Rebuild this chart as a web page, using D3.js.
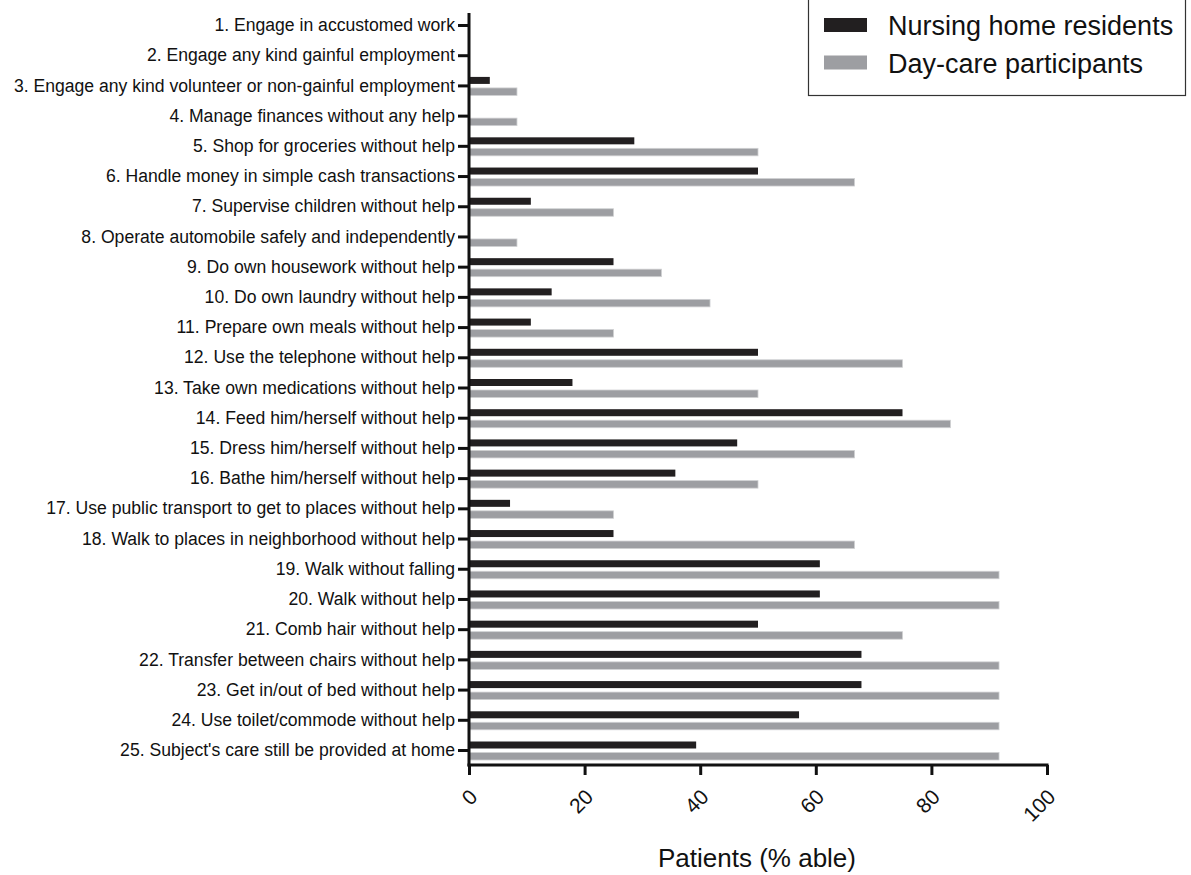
<!DOCTYPE html>
<html>
<head>
<meta charset="utf-8">
<script src="https://cdn.jsdelivr.net/npm/d3@7"></script>
<style>
  html, body { margin: 0; padding: 0; background: #fff; }
  svg { display: block; font-family: "Liberation Sans", Arial, Helvetica, sans-serif; }
</style>
</head>
<body>
<svg id="chart" width="1191" height="875"></svg>
<script>
const categories = [
  "1. Engage in accustomed work",
  "2. Engage any kind gainful employment",
  "3. Engage any kind volunteer or non-gainful employment",
  "4. Manage finances without any help",
  "5. Shop for groceries without help",
  "6. Handle money in simple cash transactions",
  "7. Supervise children without help",
  "8. Operate automobile safely and independently",
  "9. Do own housework without help",
  "10. Do own laundry without help",
  "11. Prepare own meals without help",
  "12. Use the telephone without help",
  "13. Take own medications without help",
  "14. Feed him/herself without help",
  "15. Dress him/herself without help",
  "16. Bathe him/herself without help",
  "17. Use public transport to get to places without help",
  "18. Walk to places in neighborhood without help",
  "19. Walk without falling",
  "20. Walk without help",
  "21. Comb hair without help",
  "22. Transfer between chairs without help",
  "23. Get in/out of bed without help",
  "24. Use toilet/commode without help",
  "25. Subject's care still be provided at home"
];
const nursingHome = [0, 0, 3.6, 0, 28.6, 50, 10.7, 0, 25, 14.3, 10.7, 50, 17.9, 75, 46.4, 35.7, 7.1, 25, 60.7, 60.7, 50, 67.9, 67.9, 57.1, 39.3];
const dayCare = [0, 0, 8.3, 8.3, 50, 66.7, 25, 8.3, 33.3, 41.7, 25, 75, 50, 83.3, 66.7, 50, 25, 66.7, 91.7, 91.7, 75, 91.7, 91.7, 91.7, 91.7];
const xTicks = [0, 20, 40, 60, 80, 100];
const seriesNames = ["Nursing home residents", "Day-care participants"];
const xTitle = "Patients (% able)";

const svg = d3.select("#chart");
const x0 = 469, x1 = 1047;
const axisY = 765, axisTop = 13;

const x = d3.scaleLinear().domain([0, 100]).range([x0, x1]);
const y = d3.scalePoint().domain(categories).range([25, 750]);

const black = "#221f20", grey = "#9d9ea2";

// bars
const rows = categories.map((c, i) => ({ c, nh: nursingHome[i], dc: dayCare[i] }));
svg.append("g").selectAll("rect").data(rows).join("rect")
  .attr("x", x(0)).attr("y", d => y(d.c) - 8.5)
  .attr("width", d => x(d.nh) - x(0)).attr("height", 7)
  .attr("fill", black);
svg.append("g").selectAll("rect").data(rows).join("rect")
  .attr("x", x(0)).attr("y", d => y(d.c) + 2.5)
  .attr("width", d => x(d.dc) - x(0)).attr("height", 7.5)
  .attr("fill", grey).attr("stroke", "#cfd0d2").attr("stroke-width", 0.8);

// y axis
const yAxis = svg.append("g").attr("transform", `translate(${x0},0)`)
  .call(d3.axisLeft(y).tickSize(11).tickPadding(3));
yAxis.select(".domain").remove();
yAxis.selectAll(".tick line").attr("stroke", "#111").attr("stroke-width", 3);
yAxis.selectAll(".tick text").attr("font-size", 17.6).attr("fill", "#111")
  .attr("font-family", "Liberation Sans, Arial, sans-serif");

// x axis
const xAxis = svg.append("g").attr("transform", `translate(0,${axisY})`)
  .call(d3.axisBottom(x).tickValues(xTicks).tickSize(10).tickSizeOuter(0));
xAxis.select(".domain").remove();
xAxis.selectAll(".tick line").attr("stroke", "#111").attr("stroke-width", 3);
xAxis.selectAll(".tick text")
  .attr("font-size", 21).attr("fill", "#111")
  .attr("font-family", "Liberation Sans, Arial, sans-serif")
  .attr("text-anchor", "end").attr("dy", null).attr("y", null)
  .attr("dominant-baseline", "central")
  .attr("transform", "translate(4,28) rotate(-45)");

// axis lines
svg.append("line").attr("x1", x0).attr("x2", x0).attr("y1", axisTop).attr("y2", axisY + 1.5)
  .attr("stroke", "#111").attr("stroke-width", 3);
svg.append("line").attr("x1", x0 - 1.5).attr("x2", x1 + 1.5).attr("y1", axisY).attr("y2", axisY)
  .attr("stroke", "#111").attr("stroke-width", 3);

// x title
svg.append("text").attr("x", 757).attr("y", 867).attr("text-anchor", "middle")
  .attr("font-size", 26).attr("fill", "#111").text(xTitle);

// legend
const lg = svg.append("g");
lg.append("rect").attr("x", 808.5).attr("y", -1).attr("width", 377).attr("height", 96.5)
  .attr("fill", "#fff").attr("stroke", "#333").attr("stroke-width", 1.2);
[black, grey].forEach((col, i) => {
  lg.append("rect").attr("x", 824).attr("y", 18 + i * 37.5).attr("width", 43).attr("height", 14)
    .attr("fill", col);
  lg.append("text").attr("x", 888).attr("y", 35 + i * 37.5).attr("font-size", 27)
    .attr("fill", "#111").text(seriesNames[i]);
});
</script>
</body>
</html>
